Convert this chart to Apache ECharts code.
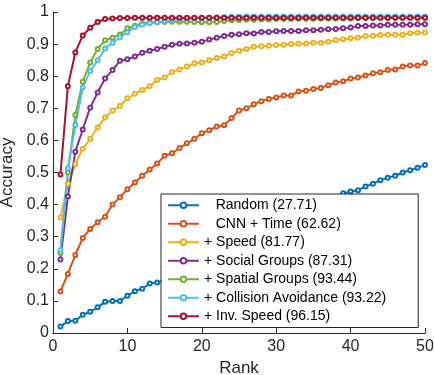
<!DOCTYPE html>
<html>
<head>
<meta charset="utf-8">
<script src="https://cdn.jsdelivr.net/npm/echarts@6/dist/echarts.min.js"></script>
<style>
html,body{margin:0;padding:0;background:#fff;}
#chart{width:434px;height:375px;}
</style>
</head>
<body>
<div id="chart"></div>
<script>
// rank 1..50
const ranks = Array.from({length: 50}, (_, i) => i + 1);

const seriesNames = [
    '   Random (27.71)',
    '   CNN + Time (62.62)',
    '+ Speed (81.77)',
    '+ Social Groups (87.31)',
    '+ Spatial Groups (93.44)',
    '+ Collision Avoidance (93.22)',
    '+ Inv. Speed (96.15)'
];

const randomAcc = [0.02,0.037,0.038,0.057,0.066,0.08,0.097,0.10,0.10,0.116,
    0.13,0.138,0.154,0.157,0.165,0.175,0.18,0.19,0.20,0.21,
    0.22,0.235,0.245,0.255,0.265,0.275,0.285,0.295,0.31,0.32,
    0.33,0.34,0.355,0.365,0.38,0.39,0.405,0.42,0.435,0.441,
    0.445,0.456,0.465,0.476,0.484,0.49,0.50,0.507,0.515,0.523];

const cnnTimeAcc = [0.129,0.184,0.243,0.296,0.324,0.345,0.362,0.40,0.423,0.448,
    0.469,0.49,0.509,0.528,0.552,0.56,0.576,0.591,0.605,0.622,
    0.632,0.643,0.647,0.67,0.693,0.70,0.713,0.722,0.729,0.734,
    0.74,0.74,0.752,0.755,0.76,0.763,0.772,0.78,0.784,0.793,
    0.796,0.802,0.809,0.812,0.819,0.821,0.83,0.833,0.833,0.841];

const speedAcc = [0.36,0.465,0.526,0.574,0.605,0.64,0.671,0.693,0.707,0.731,
    0.745,0.757,0.769,0.788,0.796,0.813,0.821,0.83,0.84,0.843,
    0.85,0.857,0.861,0.872,0.879,0.885,0.892,0.893,0.895,0.897,
    0.898,0.90,0.901,0.902,0.904,0.904,0.907,0.913,0.915,0.918,
    0.92,0.925,0.926,0.928,0.929,0.929,0.929,0.934,0.935,0.936];

const socialAcc = [0.229,0.425,0.565,0.634,0.702,0.749,0.793,0.819,0.848,0.853,
    0.861,0.873,0.879,0.885,0.892,0.898,0.901,0.902,0.904,0.907,
    0.914,0.92,0.925,0.929,0.931,0.934,0.933,0.938,0.938,0.94,
    0.941,0.941,0.941,0.943,0.943,0.945,0.946,0.947,0.949,0.952,
    0.956,0.956,0.958,0.958,0.96,0.96,0.96,0.96,0.962,0.962];

const spatialAcc = [0.249,0.50,0.679,0.783,0.843,0.885,0.912,0.92,0.93,0.949,
    0.957,0.964,0.967,0.968,0.969,0.97,0.97,0.97,0.969,0.968,
    0.968,0.969,0.972,0.974,0.975,0.976,0.976,0.977,0.977,0.978,
    0.978,0.978,0.979,0.979,0.979,0.98,0.98,0.98,0.98,0.98,
    0.981,0.981,0.981,0.981,0.981,0.982,0.982,0.982,0.982,0.982];

const collisionAcc = [0.258,0.513,0.647,0.765,0.816,0.85,0.886,0.904,0.921,0.937,
    0.953,0.96,0.965,0.968,0.972,0.975,0.977,0.979,0.98,0.981,
    0.982,0.983,0.984,0.985,0.985,0.986,0.986,0.986,0.986,0.986,
    0.986,0.986,0.986,0.986,0.986,0.986,0.986,0.986,0.986,0.986,
    0.986,0.986,0.986,0.986,0.986,0.986,0.986,0.986,0.986,0.986];

const invSpeedAcc = [0.494,0.769,0.874,0.927,0.951,0.969,0.978,0.98,0.981,0.981,
    0.982,0.982,0.982,0.982,0.982,0.982,0.982,0.982,0.982,0.982,
    0.982,0.982,0.982,0.982,0.982,0.982,0.982,0.982,0.982,0.982,
    0.982,0.982,0.982,0.982,0.982,0.982,0.982,0.982,0.982,0.982,
    0.982,0.982,0.982,0.982,0.982,0.982,0.982,0.982,0.982,0.982];

const allData = [randomAcc, cnnTimeAcc, speedAcc, socialAcc, spatialAcc, collisionAcc, invSpeedAcc];
// matlab default colour order
const colors = ['#0072BD','#D95319','#EDB120','#7E2F8E','#77AC30','#4DBEEE','#A2142F'];

const axisColor = '#262626';
const fontFamily = '"Liberation Sans", Arial, Helvetica, sans-serif';

const chart = echarts.init(document.getElementById('chart'), null, {renderer: 'canvas'});

const series = allData.map(function(d, i) {
    return {
        name: seriesNames[i],
        type: 'line',
        data: ranks.map((r, j) => [r, d[j]]),
        symbol: 'emptyCircle',
        symbolSize: 4,
        lineStyle: {width: 2, color: colors[i]},
        itemStyle: {color: colors[i], borderColor: colors[i], borderWidth: 2.5},
        emphasis: {disabled: true},
        animation: false
    };
});

chart.setOption({
    animation: false,
    color: colors,
    textStyle: {fontFamily: fontFamily},
    grid: {left: 53, right: 9, top: 12, bottom: 42, containLabel: false, outerBoundsMode: 'none'},
    legend: {
        orient: 'vertical',
        left: 161,
        top: 194,
        itemWidth: 31,
        itemHeight: 7,
        itemGap: 2,
        padding: [3, 32, 3, 6],
        backgroundColor: '#fff',
        borderColor: axisColor,
        borderWidth: 1,
        textStyle: {fontSize: 14, color: '#000', fontFamily: fontFamily, lineHeight: 16.5},
        data: seriesNames
    },
    xAxis: {
        type: 'value',
        min: 0,
        max: 50,
        interval: 10,
        name: 'Rank',
        nameLocation: 'middle',
        nameGap: 21,
        nameTextStyle: {fontSize: 17, color: axisColor},
        axisLine: {lineStyle: {color: axisColor, width: 1}},
        axisTick: {inside: true, length: 5, lineStyle: {color: axisColor}},
        axisLabel: {fontSize: 16, color: axisColor, margin: 6},
        splitLine: {show: false}
    },
    yAxis: {
        type: 'value',
        min: 0,
        max: 1,
        interval: 0.1,
        name: 'Accuracy',
        nameLocation: 'middle',
        nameGap: 29,
        nameTextStyle: {fontSize: 17, color: axisColor},
        axisLine: {show: true, lineStyle: {color: axisColor, width: 1}},
        axisTick: {show: true, inside: true, length: 5, lineStyle: {color: axisColor}},
        axisLabel: {fontSize: 16, color: axisColor, margin: 4},
        splitLine: {show: false}
    },
    series: series
});
</script>
</body>
</html>
